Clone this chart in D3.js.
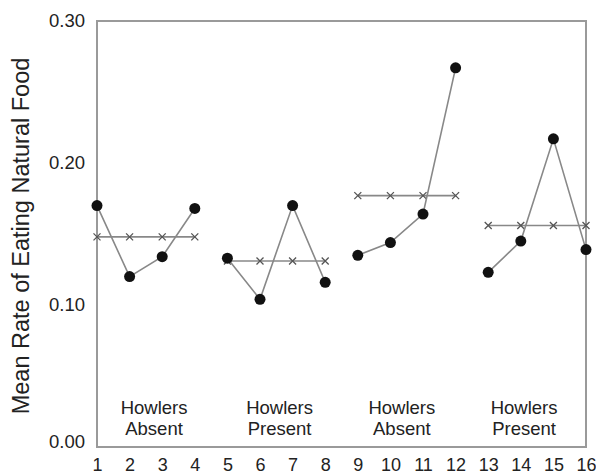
<!DOCTYPE html>
<html>
<head>
<meta charset="utf-8">
<script src="https://cdn.jsdelivr.net/npm/d3@7"></script>
<style>
  html, body { margin: 0; padding: 0; background: #fff; }
  svg { display: block; font-family: "Liberation Sans", Arial, sans-serif; }
</style>
</head>
<body>
<svg id="chart" width="596" height="474"></svg>
<script>
// ---- data ----
const sessions = [1, 2, 3, 4, 5, 6, 7, 8, 9, 10, 11, 12, 13, 14, 15, 16];
const rates = [0.170, 0.120, 0.134, 0.168,
               0.133, 0.104, 0.170, 0.116,
               0.135, 0.144, 0.164, 0.267,
               0.123, 0.145, 0.217, 0.139];
const groupStart = [1, 5, 9, 13];
const groupEnd = [4, 8, 12, 16];
const groupMeans = [0.148, 0.131, 0.177, 0.156];
const groupLine1 = ["Howlers", "Howlers", "Howlers", "Howlers"];
const groupLine2 = ["Absent", "Present", "Absent", "Present"];
const groupLabelX = [2.75, 6.6, 10.35, 14.1];
const yTicks = [0.00, 0.10, 0.20, 0.30];
const yTitle = "Mean Rate of Eating Natural Food";

// ---- layout ----
const svg = d3.select("#chart");
const L = 97, R = 586, T = 21, B = 447;
const x = d3.scaleLinear().domain([1, 16]).range([L, R]);
const y = d3.scaleLinear().domain([0, 0.30]).range([B, T]);

// frame
svg.append("rect")
  .attr("x", L).attr("y", T).attr("width", R - L).attr("height", B - T)
  .attr("fill", "none").attr("stroke", "#9a9a9a").attr("stroke-width", 2);

// y axis labels
const yAxis = d3.axisLeft(y).tickValues(yTicks).tickFormat(d3.format(".2f")).tickSize(0).tickPadding(12);
const gy = svg.append("g").attr("transform", `translate(${L},0)`).call(yAxis);
gy.select(".domain").remove();
gy.selectAll("text").attr("font-size", 18.5).attr("fill", "#222")
  .attr("font-family", "Liberation Sans, Arial, sans-serif");
gy.selectAll(".tick").filter(d => d === 0).select("text").attr("dy", "0.05em");

// x axis labels
const xAxis = d3.axisBottom(x).tickValues(sessions).tickFormat(d3.format("d")).tickSize(0).tickPadding(11);
const gx = svg.append("g").attr("transform", `translate(0,${B})`).call(xAxis);
gx.select(".domain").remove();
gx.selectAll("text").attr("font-size", 18).attr("fill", "#222")
  .attr("font-family", "Liberation Sans, Arial, sans-serif");

// y title
svg.append("text")
  .attr("transform", `translate(29,236) rotate(-90)`)
  .attr("text-anchor", "middle")
  .attr("font-size", 23.5).attr("fill", "#222")
  .text(yTitle);

// group mean lines with x markers
groupStart.forEach((s, i) => {
  const e = groupEnd[i];
  const m = groupMeans[i];
  svg.append("line")
    .attr("x1", x(s)).attr("x2", x(e)).attr("y1", y(m)).attr("y2", y(m))
    .attr("stroke", "#888").attr("stroke-width", 1.6);
  const pts = sessions.filter(d => d >= s && d <= e);
  svg.append("g").selectAll("path").data(pts).join("path")
    .attr("d", d => {
      const cx = x(d), cy = y(m), h = 3.5;
      return `M${cx - h},${cy - h}L${cx + h},${cy + h}M${cx - h},${cy + h}L${cx + h},${cy - h}`;
    })
    .attr("stroke", "#555").attr("stroke-width", 1.3).attr("fill", "none");
});

// data lines per group
const lineGen = d3.line().x(d => x(d[0])).y(d => y(d[1]));
groupStart.forEach((s, i) => {
  const e = groupEnd[i];
  const pts = sessions.map((d, j) => [d, rates[j]]).filter(p => p[0] >= s && p[0] <= e);
  svg.append("path").datum(pts).attr("d", lineGen)
    .attr("fill", "none").attr("stroke", "#888").attr("stroke-width", 1.6);
});

// dots
svg.append("g").selectAll("circle").data(sessions).join("circle")
  .attr("cx", d => x(d)).attr("cy", (d, j) => y(rates[j])).attr("r", 5.5)
  .attr("fill", "#111");

// group labels
groupLabelX.forEach((gxv, i) => {
  const t = svg.append("text").attr("text-anchor", "middle")
    .attr("font-size", 18.5).attr("fill", "#222");
  t.append("tspan").attr("x", x(gxv)).attr("y", 414).text(groupLine1[i]);
  t.append("tspan").attr("x", x(gxv)).attr("y", 435).text(groupLine2[i]);
});
</script>
</body>
</html>
